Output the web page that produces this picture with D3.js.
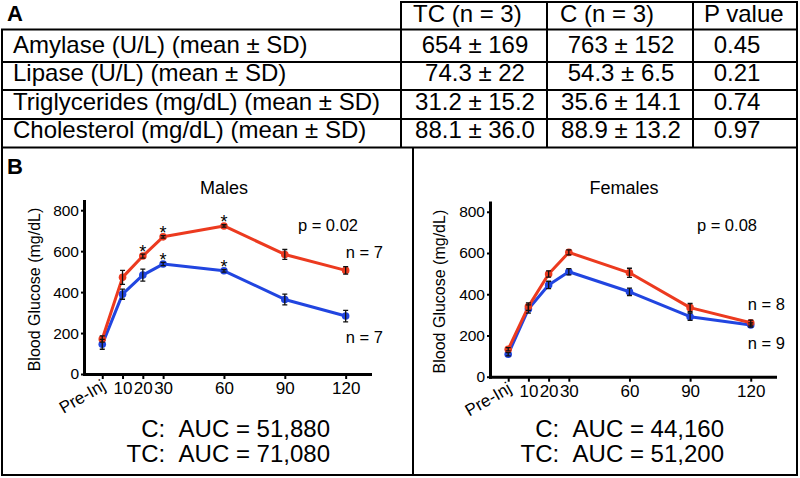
<!DOCTYPE html>
<html><head><meta charset="utf-8">
<script src="https://cdn.jsdelivr.net/npm/d3@7"></script>
<style>
body{margin:0;background:#fff}
text{font-family:"Liberation Sans",Arial,Helvetica,sans-serif;fill:#000;white-space:pre}
</style>
</head><body><svg id="c" width="800" height="478"></svg>
<script>
// ---------- Data: table (panel A) ----------
const tableHeader = ["TC (n = 3)", "C (n = 3)", "P value"];
const rowLabels = ["Amylase (U/L) (mean ± SD)", "Lipase (U/L) (mean ± SD)", "Triglycerides (mg/dL) (mean ± SD)", "Cholesterol (mg/dL) (mean ± SD)"];
const tcValues = ["654 ± 169", "74.3 ± 22", "31.2 ± 15.2", "88.1 ± 36.0"];
const cValues = ["763 ± 152", "54.3 ± 6.5", "35.6 ± 14.1", "88.9 ± 13.2"];
const pValues = ["0.45", "0.21", "0.74", "0.97"];

// ---------- Data: glucose tolerance (panel B) ----------
const timeLabels = ["Pre-Inj", "10", "20", "30", "60", "90", "120"];
const timeMinutes = [0, 10, 20, 30, 60, 90, 120];
const yTicks = [0, 200, 400, 600, 800];

const maleTC = [171, 472, 576, 670, 723, 584, 506];
const maleTCerr = [15, 34, 10, 6, 6, 24, 18];
const maleC = [145, 390, 483, 537, 504, 364, 283];
const maleCerr = [24, 25, 29, 8, 6, 26, 28];
const maleStarsTC = [20, 30, 60];
const maleStarsC = [30, 60];

const femaleTC = [133, 340, 498, 603, 504, 335, 262];
const femaleTCerr = [8, 18, 15, 12, 22, 20, 12];
const femaleC = [109, 328, 445, 509, 412, 291, 251];
const femaleCerr = [8, 20, 18, 15, 18, 18, 10];
const femaleStarsTC = [];
const femaleStarsC = [];

const RED = "#ec3a1f", BLUE = "#2145e0";
const NB = "\u00a0";

const svg = d3.select("#c");
svg.append("rect").attr("width", 800).attr("height", 478).attr("fill", "#fff");

// ---------- Panel A: table ----------
const colEdges = [2, 401, 547, 693, 797];
const rowEdges = [2, 29.5, 62, 90, 119, 147.5];
const tA = svg.append("g");
tA.append("text").attr("x", 7).attr("y", 21).attr("font-size", 22).attr("font-weight", "bold").text("A");
rowEdges.forEach((yy, i) => {
  tA.append("line").attr("x1", i === 0 ? colEdges[1] - 1 : colEdges[0] - 1).attr("x2", colEdges[4] + 1)
    .attr("y1", yy).attr("y2", yy).attr("stroke", "#000").attr("stroke-width", 2);
});
colEdges.forEach((xx, i) => {
  tA.append("line").attr("x1", xx).attr("x2", xx)
    .attr("y1", i === 0 ? rowEdges[1] : rowEdges[0]).attr("y2", rowEdges[5])
    .attr("stroke", "#000").attr("stroke-width", 2);
});
const headerX = [413, 560, 704];
tableHeader.forEach((h, i) => {
  tA.append("text").attr("x", headerX[i]).attr("y", rowEdges[1] - 8).attr("font-size", 24).text(h);
});
const dataCenters = [475, 621, 737];
rowLabels.forEach((lab, r) => {
  const yb = rowEdges[r + 2] - 9.5;
  tA.append("text").attr("x", 13).attr("y", yb).attr("font-size", 24).text(lab);
  [tcValues[r], cValues[r], pValues[r]].forEach((v, c) => {
    tA.append("text").attr("x", dataCenters[c]).attr("y", yb).attr("font-size", 24)
      .attr("text-anchor", "middle").text(v);
  });
});

// ---------- Panel B frame ----------
const tB = svg.append("g");
tB.append("path").attr("d", "M2,147.5 V475 H797 V147.5 M413,147.5 V475")
  .attr("fill", "none").attr("stroke", "#000").attr("stroke-width", 2);
tB.append("text").attr("x", 7).attr("y", 174).attr("font-size", 22).attr("font-weight", "bold").text("B");

// ---------- Charts ----------
const panels = [
  { title: "Males", tc: maleTC, tcErr: maleTCerr, c: maleC, cErr: maleCerr, starsTC: maleStarsTC, starsC: maleStarsC,
    p: "p = 0.02", nTC: "n = 7", nC: "n = 7", aucC: "C:" + NB + NB + "AUC = 51,880", aucTC: "TC:" + NB + NB + "AUC = 71,080",
    left: 84, right: 370, bottom: 374, top: 201,
    titleX: 224, pX: 358, nX: 383, nTCy: 258, nCy: 343, aucX: 330, ylabX: 40 },
  { title: "Females", tc: femaleTC, tcErr: femaleTCerr, c: femaleC, cErr: femaleCerr, starsTC: femaleStarsTC, starsC: femaleStarsC,
    p: "p = 0.08", nTC: "n = 8", nC: "n = 9", aucC: "C:" + NB + NB + "AUC = 44,160", aucTC: "TC:" + NB + NB + "AUC = 51,200",
    left: 490, right: 775, bottom: 376.7, top: 202.5,
    titleX: 624, pX: 757, nX: 785, nTCy: 310, nCy: 349, aucX: 724, ylabX: 445 }
];

panels.forEach(p => {
  const g = svg.append("g");
  const x = d3.scaleLinear().domain([-9, 132]).range([p.left, p.right]);
  const y = d3.scaleLinear().domain([0, 845]).range([p.bottom, p.top]);

  const gy = g.append("g").attr("transform", `translate(${p.left},0)`)
    .call(d3.axisLeft(y).tickValues(yTicks).tickSize(3).tickPadding(2).tickSizeOuter(0));
  const gx = g.append("g").attr("transform", `translate(0,${p.bottom})`)
    .call(d3.axisBottom(x).tickValues(timeMinutes).tickFormat((d, i) => timeLabels[i])
      .tickSize(5).tickPadding(3).tickSizeOuter(0));
  [gy, gx].forEach(a => {
    a.select(".domain").attr("stroke", "#000").attr("stroke-width", 3).attr("stroke-linecap", "square");
    a.selectAll(".tick line").attr("stroke", "#000").attr("stroke-width", 2);
    a.selectAll("text").attr("font-family", null).style("fill", "#000");
  });
  gy.selectAll(".tick text").attr("font-size", 15.5);
  gx.selectAll(".tick text").attr("font-size", 17);
  gx.selectAll(".tick text").filter((d, i) => i === 0)
    .attr("x", 0).attr("y", 0).attr("dy", 0).attr("text-anchor", "end")
    .attr("transform", "translate(4,15) rotate(-30)");

  const line = d3.line().x((d, i) => x(timeMinutes[i])).y(d => y(d));
  const series = [
    { vals: p.c, err: p.cErr, color: BLUE, stars: p.starsC },
    { vals: p.tc, err: p.tcErr, color: RED, stars: p.starsTC }
  ];
  series.forEach(s => {
    g.append("path").datum(s.vals).attr("d", line).attr("fill", "none")
      .attr("stroke", s.color).attr("stroke-width", 3).attr("stroke-linejoin", "round");
    g.selectAll(null).data(s.vals).join("circle")
      .attr("cx", (d, i) => x(timeMinutes[i])).attr("cy", d => y(d)).attr("r", 3.8).attr("fill", s.color);
  });
  series.forEach(s => {
    s.vals.forEach((v, i) => {
      const cx = x(timeMinutes[i]), y1 = y(v - s.err[i]), y2 = y(v + s.err[i]);
      g.append("path").attr("d", `M${cx},${y1} V${y2} M${cx - 2.5},${y1} H${cx + 2.5} M${cx - 2.5},${y2} H${cx + 2.5}`)
        .attr("stroke", "#111").attr("stroke-width", 1.3).attr("fill", "none");
    });
    s.stars.forEach(t => {
      const i = timeMinutes.indexOf(t);
      g.append("text").attr("x", x(t)).attr("y", y(s.vals[i]) + 2).attr("text-anchor", "middle")
        .attr("font-size", 18).text("*");
    });
  });

  g.append("text").attr("x", p.titleX).attr("y", 194).attr("text-anchor", "middle").attr("font-size", 18).text(p.title);
  g.append("text").attr("x", p.pX).attr("y", 231).attr("text-anchor", "end").attr("font-size", 16.5).text(p.p);
  g.append("text").attr("x", p.nX).attr("y", p.nTCy).attr("text-anchor", "end").attr("font-size", 16.5).text(p.nTC);
  g.append("text").attr("x", p.nX).attr("y", p.nCy).attr("text-anchor", "end").attr("font-size", 16.5).text(p.nC);
  g.append("text").attr("x", p.aucX).attr("y", 437).attr("text-anchor", "end").attr("font-size", 24).text(p.aucC);
  g.append("text").attr("x", p.aucX).attr("y", 462).attr("text-anchor", "end").attr("font-size", 24).text(p.aucTC);
  g.append("text").attr("transform", `translate(${p.ylabX},${(p.bottom + p.top) / 2 + 2}) rotate(-90)`)
    .attr("text-anchor", "middle").attr("font-size", 16).text("Blood Glucose (mg/dL)");
});
</script></body></html>
